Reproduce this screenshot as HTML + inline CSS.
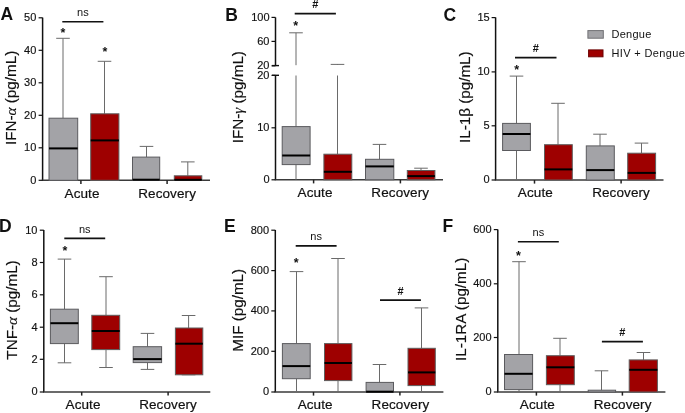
<!DOCTYPE html>
<html><head><meta charset="utf-8"><style>
html,body{margin:0;padding:0;background:#fff;}
svg{display:block;will-change:transform;font-family:"Liberation Sans", sans-serif;}
text{fill:#111;}
</style></head><body>
<svg width="685" height="413" viewBox="0 0 685 413">
<rect width="685" height="413" fill="#fff"/>
<line x1="42.6" y1="17.6" x2="42.6" y2="180.3" stroke="#111" stroke-width="1.5"/>
<line x1="41.85" y1="180.3" x2="210" y2="180.3" stroke="#3a3a3a" stroke-width="1.4"/>
<line x1="38.6" y1="180.3" x2="42.6" y2="180.3" stroke="#111" stroke-width="1.2"/>
<text x="36.3" y="183.7" font-size="11" text-anchor="end" font-weight="normal"  stroke="#111" stroke-width="0.15">0</text>
<line x1="38.6" y1="147.8" x2="42.6" y2="147.8" stroke="#111" stroke-width="1.2"/>
<text x="36.3" y="151.2" font-size="11" text-anchor="end" font-weight="normal"  stroke="#111" stroke-width="0.15">10</text>
<line x1="38.6" y1="115.3" x2="42.6" y2="115.3" stroke="#111" stroke-width="1.2"/>
<text x="36.3" y="118.7" font-size="11" text-anchor="end" font-weight="normal"  stroke="#111" stroke-width="0.15">20</text>
<line x1="38.6" y1="82.8" x2="42.6" y2="82.8" stroke="#111" stroke-width="1.2"/>
<text x="36.3" y="86.2" font-size="11" text-anchor="end" font-weight="normal"  stroke="#111" stroke-width="0.15">30</text>
<line x1="38.6" y1="50.3" x2="42.6" y2="50.3" stroke="#111" stroke-width="1.2"/>
<text x="36.3" y="53.7" font-size="11" text-anchor="end" font-weight="normal"  stroke="#111" stroke-width="0.15">40</text>
<line x1="38.6" y1="17.8" x2="42.6" y2="17.8" stroke="#111" stroke-width="1.2"/>
<text x="36.3" y="21.2" font-size="11" text-anchor="end" font-weight="normal"  stroke="#111" stroke-width="0.15">50</text>
<line x1="80.9" y1="180.3" x2="80.9" y2="183.9" stroke="#222" stroke-width="1.5"/>
<text x="82.05" y="197.6" font-size="13.5" text-anchor="middle" font-weight="normal"  letter-spacing="0.1" stroke="#111" stroke-width="0.2">Acute</text>
<line x1="167.1" y1="180.3" x2="167.1" y2="183.9" stroke="#222" stroke-width="1.5"/>
<text x="167.1" y="197.6" font-size="13.5" text-anchor="middle" font-weight="normal"  letter-spacing="0.1" stroke="#111" stroke-width="0.2">Recovery</text>
<text x="0" y="0" font-size="14.5" text-anchor="middle" font-weight="normal" transform="translate(16.3,97.9) rotate(-90) scale(1.05,1)" stroke="#111" stroke-width="0.15">IFN-<tspan font-family="Liberation Serif" font-style="italic">α</tspan> (pg/mL)</text>
<text x="0.4" y="20.4" font-size="17.5" text-anchor="start" font-weight="bold" >A</text>
<line x1="63.0" y1="38.3" x2="63.0" y2="118.2" stroke="#6a6a6a" stroke-width="1"/>
<line x1="56.2" y1="38.3" x2="69.8" y2="38.3" stroke="#6a6a6a" stroke-width="1"/>
<line x1="63.0" y1="180.3" x2="63.0" y2="180.3" stroke="#6a6a6a" stroke-width="1"/>
<rect x="49" y="118.2" width="28.7" height="62.1" fill="#a3a3a7" stroke="#5a5a5e" stroke-width="1"/>
<line x1="49" y1="148.4" x2="77.7" y2="148.4" stroke="#000" stroke-width="2"/>
<line x1="104.5" y1="61.3" x2="104.5" y2="113.8" stroke="#6a6a6a" stroke-width="1"/>
<line x1="97.7" y1="61.3" x2="111.3" y2="61.3" stroke="#6a6a6a" stroke-width="1"/>
<line x1="104.5" y1="180.3" x2="104.5" y2="180.3" stroke="#6a6a6a" stroke-width="1"/>
<rect x="90.7" y="113.8" width="28.2" height="66.5" fill="#9e0000" stroke="#5e5e5e" stroke-width="1"/>
<line x1="90.7" y1="140.4" x2="118.9" y2="140.4" stroke="#000" stroke-width="2"/>
<line x1="146.5" y1="146.4" x2="146.5" y2="157.1" stroke="#6a6a6a" stroke-width="1"/>
<line x1="139.7" y1="146.4" x2="153.3" y2="146.4" stroke="#6a6a6a" stroke-width="1"/>
<line x1="146.5" y1="180.3" x2="146.5" y2="180.3" stroke="#6a6a6a" stroke-width="1"/>
<rect x="132.5" y="157.1" width="27.2" height="23.2" fill="#a3a3a7" stroke="#5a5a5e" stroke-width="1"/>
<line x1="132.5" y1="179.7" x2="159.7" y2="179.7" stroke="#000" stroke-width="2"/>
<line x1="187.8" y1="161.9" x2="187.8" y2="175.8" stroke="#6a6a6a" stroke-width="1"/>
<line x1="181.0" y1="161.9" x2="194.6" y2="161.9" stroke="#6a6a6a" stroke-width="1"/>
<line x1="187.8" y1="180.3" x2="187.8" y2="180.3" stroke="#6a6a6a" stroke-width="1"/>
<rect x="174.3" y="175.8" width="27.5" height="4.5" fill="#9e0000" stroke="#5e5e5e" stroke-width="1"/>
<line x1="174.3" y1="179.8" x2="201.8" y2="179.8" stroke="#000" stroke-width="2"/>
<text x="63" y="36.5" font-size="12.5" text-anchor="middle" font-weight="bold" >*</text>
<text x="105" y="55.5" font-size="12.5" text-anchor="middle" font-weight="bold" >*</text>
<line x1="62.3" y1="21.8" x2="103.4" y2="21.8" stroke="#111" stroke-width="1.6"/>
<text x="82.85" y="15.7" font-size="11" text-anchor="middle" font-weight="normal" >ns</text>
<line x1="275.5" y1="17.4" x2="275.5" y2="65.6" stroke="#111" stroke-width="1.5"/>
<line x1="275.5" y1="75.3" x2="275.5" y2="179.8" stroke="#111" stroke-width="1.5"/>
<line x1="274.75" y1="179.8" x2="443" y2="179.8" stroke="#3a3a3a" stroke-width="1.4"/>
<line x1="271.5" y1="17.4" x2="275.5" y2="17.4" stroke="#111" stroke-width="1.2"/>
<text x="269.5" y="20.8" font-size="11" text-anchor="end" font-weight="normal"  stroke="#111" stroke-width="0.15">100</text>
<line x1="271.5" y1="41.4" x2="275.5" y2="41.4" stroke="#111" stroke-width="1.2"/>
<text x="269.5" y="44.8" font-size="11" text-anchor="end" font-weight="normal"  stroke="#111" stroke-width="0.15">60</text>
<line x1="271.5" y1="65.8" x2="275.5" y2="65.8" stroke="#111" stroke-width="1.2"/>
<text x="269.5" y="69.2" font-size="11" text-anchor="end" font-weight="normal"  stroke="#111" stroke-width="0.15">20</text>
<line x1="271.5" y1="75.4" x2="275.5" y2="75.4" stroke="#111" stroke-width="1.2"/>
<text x="269.5" y="78.8" font-size="11" text-anchor="end" font-weight="normal"  stroke="#111" stroke-width="0.15">20</text>
<line x1="271.5" y1="127.8" x2="275.5" y2="127.8" stroke="#111" stroke-width="1.2"/>
<text x="269.5" y="131.2" font-size="11" text-anchor="end" font-weight="normal"  stroke="#111" stroke-width="0.15">10</text>
<line x1="271.5" y1="179.8" x2="275.5" y2="179.8" stroke="#111" stroke-width="1.2"/>
<text x="269.5" y="183.2" font-size="11" text-anchor="end" font-weight="normal"  stroke="#111" stroke-width="0.15">0</text>
<line x1="272.0" y1="65.6" x2="279.0" y2="65.6" stroke="#111" stroke-width="1.4"/>
<line x1="272.0" y1="75.3" x2="279.0" y2="75.3" stroke="#111" stroke-width="1.4"/>
<line x1="313.6" y1="179.8" x2="313.6" y2="183.4" stroke="#222" stroke-width="1.5"/>
<text x="315.05" y="197.1" font-size="13.5" text-anchor="middle" font-weight="normal"  letter-spacing="0.1" stroke="#111" stroke-width="0.2">Acute</text>
<line x1="400.4" y1="179.8" x2="400.4" y2="183.4" stroke="#222" stroke-width="1.5"/>
<text x="400.25" y="197.1" font-size="13.5" text-anchor="middle" font-weight="normal"  letter-spacing="0.1" stroke="#111" stroke-width="0.2">Recovery</text>
<text x="0" y="0" font-size="14.5" text-anchor="middle" font-weight="normal" transform="translate(242.8,97.2) rotate(-90) scale(1.05,1)" stroke="#111" stroke-width="0.15">IFN-<tspan font-family="Liberation Serif" font-style="italic">γ</tspan> (pg/mL)</text>
<text x="225.2" y="20.5" font-size="17.5" text-anchor="start" font-weight="bold" >B</text>
<line x1="296.0" y1="32.8" x2="296.0" y2="65.2" stroke="#6a6a6a" stroke-width="1"/>
<line x1="296.0" y1="75.5" x2="296.0" y2="126.6" stroke="#6a6a6a" stroke-width="1"/>
<line x1="289.2" y1="32.8" x2="302.8" y2="32.8" stroke="#6a6a6a" stroke-width="1"/>
<line x1="296.0" y1="164.6" x2="296.0" y2="179.8" stroke="#6a6a6a" stroke-width="1"/>
<rect x="282.2" y="126.6" width="27.9" height="38.0" fill="#a3a3a7" stroke="#5a5a5e" stroke-width="1"/>
<line x1="282.2" y1="155.5" x2="310.1" y2="155.5" stroke="#000" stroke-width="2"/>
<line x1="337.5" y1="64.4" x2="337.5" y2="65.0" stroke="#6a6a6a" stroke-width="1"/>
<line x1="337.5" y1="75.5" x2="337.5" y2="154.2" stroke="#6a6a6a" stroke-width="1"/>
<line x1="330.7" y1="64.4" x2="344.3" y2="64.4" stroke="#6a6a6a" stroke-width="1"/>
<line x1="337.5" y1="179.8" x2="337.5" y2="179.8" stroke="#6a6a6a" stroke-width="1"/>
<rect x="323.9" y="154.2" width="27.9" height="25.6" fill="#9e0000" stroke="#5e5e5e" stroke-width="1"/>
<line x1="323.9" y1="171.8" x2="351.8" y2="171.8" stroke="#000" stroke-width="2"/>
<line x1="379.5" y1="144.4" x2="379.5" y2="159.3" stroke="#6a6a6a" stroke-width="1"/>
<line x1="372.7" y1="144.4" x2="386.3" y2="144.4" stroke="#6a6a6a" stroke-width="1"/>
<line x1="379.5" y1="179.8" x2="379.5" y2="179.8" stroke="#6a6a6a" stroke-width="1"/>
<rect x="365.5" y="159.3" width="28.3" height="20.5" fill="#a3a3a7" stroke="#5a5a5e" stroke-width="1"/>
<line x1="365.5" y1="166.4" x2="393.8" y2="166.4" stroke="#000" stroke-width="2"/>
<line x1="421.0" y1="168.2" x2="421.0" y2="170.5" stroke="#6a6a6a" stroke-width="1"/>
<line x1="414.2" y1="168.2" x2="427.8" y2="168.2" stroke="#6a6a6a" stroke-width="1"/>
<line x1="421.0" y1="179.8" x2="421.0" y2="179.8" stroke="#6a6a6a" stroke-width="1"/>
<rect x="407.3" y="170.5" width="27.6" height="9.3" fill="#9e0000" stroke="#5e5e5e" stroke-width="1"/>
<line x1="407.3" y1="176.1" x2="434.9" y2="176.1" stroke="#000" stroke-width="2"/>
<text x="295.6" y="29.5" font-size="12.5" text-anchor="middle" font-weight="bold" >*</text>
<line x1="294.7" y1="13.6" x2="335.9" y2="13.6" stroke="#111" stroke-width="1.6"/>
<text x="315.3" y="8.2" font-size="11" text-anchor="middle" font-weight="bold" >#</text>
<line x1="495.6" y1="17.4" x2="495.6" y2="180" stroke="#111" stroke-width="1.5"/>
<line x1="494.85" y1="180" x2="663.5" y2="180" stroke="#3a3a3a" stroke-width="1.4"/>
<line x1="491.6" y1="180" x2="495.6" y2="180" stroke="#111" stroke-width="1.2"/>
<text x="489.7" y="183.4" font-size="11" text-anchor="end" font-weight="normal"  stroke="#111" stroke-width="0.15">0</text>
<line x1="491.6" y1="125.8" x2="495.6" y2="125.8" stroke="#111" stroke-width="1.2"/>
<text x="489.7" y="129.2" font-size="11" text-anchor="end" font-weight="normal"  stroke="#111" stroke-width="0.15">5</text>
<line x1="491.6" y1="71.9" x2="495.6" y2="71.9" stroke="#111" stroke-width="1.2"/>
<text x="489.7" y="75.3" font-size="11" text-anchor="end" font-weight="normal"  stroke="#111" stroke-width="0.15">10</text>
<line x1="491.6" y1="17.6" x2="495.6" y2="17.6" stroke="#111" stroke-width="1.2"/>
<text x="489.7" y="21.0" font-size="11" text-anchor="end" font-weight="normal"  stroke="#111" stroke-width="0.15">15</text>
<line x1="534.5" y1="180" x2="534.5" y2="183.6" stroke="#222" stroke-width="1.5"/>
<text x="535.35" y="197.3" font-size="13.5" text-anchor="middle" font-weight="normal"  letter-spacing="0.1" stroke="#111" stroke-width="0.2">Acute</text>
<line x1="621.1" y1="180" x2="621.1" y2="183.6" stroke="#222" stroke-width="1.5"/>
<text x="621.05" y="197.3" font-size="13.5" text-anchor="middle" font-weight="normal"  letter-spacing="0.1" stroke="#111" stroke-width="0.2">Recovery</text>
<text x="0" y="0" font-size="14.5" text-anchor="middle" font-weight="normal" transform="translate(469.8,97.2) rotate(-90) scale(1.05,1)" stroke="#111" stroke-width="0.15">IL-1β (pg/mL)</text>
<text x="443.6" y="20.5" font-size="17.5" text-anchor="start" font-weight="bold" >C</text>
<line x1="516.5" y1="76.1" x2="516.5" y2="123.4" stroke="#6a6a6a" stroke-width="1"/>
<line x1="509.7" y1="76.1" x2="523.3" y2="76.1" stroke="#6a6a6a" stroke-width="1"/>
<line x1="516.5" y1="150.5" x2="516.5" y2="180" stroke="#6a6a6a" stroke-width="1"/>
<rect x="502.6" y="123.4" width="27.8" height="27.1" fill="#a3a3a7" stroke="#5a5a5e" stroke-width="1"/>
<line x1="502.6" y1="134" x2="530.4" y2="134" stroke="#000" stroke-width="2"/>
<line x1="558.0" y1="103.3" x2="558.0" y2="144.7" stroke="#6a6a6a" stroke-width="1"/>
<line x1="551.2" y1="103.3" x2="564.8" y2="103.3" stroke="#6a6a6a" stroke-width="1"/>
<line x1="558.0" y1="180" x2="558.0" y2="180" stroke="#6a6a6a" stroke-width="1"/>
<rect x="544.5" y="144.7" width="27.8" height="35.3" fill="#9e0000" stroke="#5e5e5e" stroke-width="1"/>
<line x1="544.5" y1="169.4" x2="572.3" y2="169.4" stroke="#000" stroke-width="2"/>
<line x1="600.0" y1="134.2" x2="600.0" y2="145.9" stroke="#6a6a6a" stroke-width="1"/>
<line x1="593.2" y1="134.2" x2="606.8" y2="134.2" stroke="#6a6a6a" stroke-width="1"/>
<line x1="600.0" y1="180" x2="600.0" y2="180" stroke="#6a6a6a" stroke-width="1"/>
<rect x="586.3" y="145.9" width="28.0" height="34.1" fill="#a3a3a7" stroke="#5a5a5e" stroke-width="1"/>
<line x1="586.3" y1="170.1" x2="614.3" y2="170.1" stroke="#000" stroke-width="2"/>
<line x1="641.5" y1="143.1" x2="641.5" y2="153.2" stroke="#6a6a6a" stroke-width="1"/>
<line x1="634.7" y1="143.1" x2="648.3" y2="143.1" stroke="#6a6a6a" stroke-width="1"/>
<line x1="641.5" y1="180" x2="641.5" y2="180" stroke="#6a6a6a" stroke-width="1"/>
<rect x="627.7" y="153.2" width="27.9" height="26.8" fill="#9e0000" stroke="#5e5e5e" stroke-width="1"/>
<line x1="627.7" y1="172.9" x2="655.6" y2="172.9" stroke="#000" stroke-width="2"/>
<text x="516.7" y="73.5" font-size="12.5" text-anchor="middle" font-weight="bold" >*</text>
<line x1="515" y1="57.6" x2="556.5" y2="57.6" stroke="#111" stroke-width="1.6"/>
<text x="535.75" y="52.2" font-size="11" text-anchor="middle" font-weight="bold" >#</text>
<line x1="43.8" y1="230" x2="43.8" y2="392" stroke="#111" stroke-width="1.5"/>
<line x1="43.05" y1="392" x2="210.3" y2="392" stroke="#3a3a3a" stroke-width="1.4"/>
<line x1="39.8" y1="392" x2="43.8" y2="392" stroke="#111" stroke-width="1.2"/>
<text x="37.5" y="395.4" font-size="11" text-anchor="end" font-weight="normal"  stroke="#111" stroke-width="0.15">0</text>
<line x1="39.8" y1="359.3" x2="43.8" y2="359.3" stroke="#111" stroke-width="1.2"/>
<text x="37.5" y="362.7" font-size="11" text-anchor="end" font-weight="normal"  stroke="#111" stroke-width="0.15">2</text>
<line x1="39.8" y1="327.2" x2="43.8" y2="327.2" stroke="#111" stroke-width="1.2"/>
<text x="37.5" y="330.6" font-size="11" text-anchor="end" font-weight="normal"  stroke="#111" stroke-width="0.15">4</text>
<line x1="39.8" y1="294.8" x2="43.8" y2="294.8" stroke="#111" stroke-width="1.2"/>
<text x="37.5" y="298.2" font-size="11" text-anchor="end" font-weight="normal"  stroke="#111" stroke-width="0.15">6</text>
<line x1="39.8" y1="262.5" x2="43.8" y2="262.5" stroke="#111" stroke-width="1.2"/>
<text x="37.5" y="265.9" font-size="11" text-anchor="end" font-weight="normal"  stroke="#111" stroke-width="0.15">8</text>
<line x1="39.8" y1="230.2" x2="43.8" y2="230.2" stroke="#111" stroke-width="1.2"/>
<text x="37.5" y="233.6" font-size="11" text-anchor="end" font-weight="normal"  stroke="#111" stroke-width="0.15">10</text>
<line x1="81.7" y1="392" x2="81.7" y2="395.6" stroke="#222" stroke-width="1.5"/>
<text x="83.05" y="409.3" font-size="13.5" text-anchor="middle" font-weight="normal"  letter-spacing="0.1" stroke="#111" stroke-width="0.2">Acute</text>
<line x1="168.1" y1="392" x2="168.1" y2="395.6" stroke="#222" stroke-width="1.5"/>
<text x="168.05" y="409.3" font-size="13.5" text-anchor="middle" font-weight="normal"  letter-spacing="0.1" stroke="#111" stroke-width="0.2">Recovery</text>
<text x="0" y="0" font-size="14.5" text-anchor="middle" font-weight="normal" transform="translate(17.1,310) rotate(-90) scale(1.05,1)" stroke="#111" stroke-width="0.15">TNF-<tspan font-family="Liberation Serif" font-style="italic">α</tspan> (pg/mL)</text>
<text x="-1" y="231.6" font-size="17.5" text-anchor="start" font-weight="bold" >D</text>
<line x1="64.5" y1="259.1" x2="64.5" y2="309.2" stroke="#6a6a6a" stroke-width="1"/>
<line x1="57.7" y1="259.1" x2="71.3" y2="259.1" stroke="#6a6a6a" stroke-width="1"/>
<line x1="64.5" y1="343.6" x2="64.5" y2="362.8" stroke="#6a6a6a" stroke-width="1"/>
<line x1="57.7" y1="362.8" x2="71.3" y2="362.8" stroke="#6a6a6a" stroke-width="1"/>
<rect x="50.4" y="309.2" width="27.9" height="34.4" fill="#a3a3a7" stroke="#5a5a5e" stroke-width="1"/>
<line x1="50.4" y1="323.2" x2="78.3" y2="323.2" stroke="#000" stroke-width="2"/>
<line x1="106.0" y1="276.7" x2="106.0" y2="315.3" stroke="#6a6a6a" stroke-width="1"/>
<line x1="99.2" y1="276.7" x2="112.8" y2="276.7" stroke="#6a6a6a" stroke-width="1"/>
<line x1="106.0" y1="349.6" x2="106.0" y2="367.5" stroke="#6a6a6a" stroke-width="1"/>
<line x1="99.2" y1="367.5" x2="112.8" y2="367.5" stroke="#6a6a6a" stroke-width="1"/>
<rect x="91.8" y="315.3" width="27.9" height="34.3" fill="#9e0000" stroke="#5e5e5e" stroke-width="1"/>
<line x1="91.8" y1="331" x2="119.7" y2="331" stroke="#000" stroke-width="2"/>
<line x1="147.5" y1="333.4" x2="147.5" y2="346.7" stroke="#6a6a6a" stroke-width="1"/>
<line x1="140.7" y1="333.4" x2="154.3" y2="333.4" stroke="#6a6a6a" stroke-width="1"/>
<line x1="147.5" y1="362.6" x2="147.5" y2="369.4" stroke="#6a6a6a" stroke-width="1"/>
<line x1="140.7" y1="369.4" x2="154.3" y2="369.4" stroke="#6a6a6a" stroke-width="1"/>
<rect x="133.2" y="346.7" width="28.4" height="15.9" fill="#a3a3a7" stroke="#5a5a5e" stroke-width="1"/>
<line x1="133.2" y1="359.1" x2="161.6" y2="359.1" stroke="#000" stroke-width="2"/>
<line x1="188.6" y1="315.5" x2="188.6" y2="328" stroke="#6a6a6a" stroke-width="1"/>
<line x1="181.8" y1="315.5" x2="195.4" y2="315.5" stroke="#6a6a6a" stroke-width="1"/>
<line x1="188.6" y1="374.8" x2="188.6" y2="374.8" stroke="#6a6a6a" stroke-width="1"/>
<line x1="181.8" y1="374.8" x2="195.4" y2="374.8" stroke="#6a6a6a" stroke-width="1"/>
<rect x="175.4" y="328" width="27.4" height="46.8" fill="#9e0000" stroke="#5e5e5e" stroke-width="1"/>
<line x1="175.4" y1="343.7" x2="202.8" y2="343.7" stroke="#000" stroke-width="2"/>
<text x="64.9" y="254.5" font-size="12.5" text-anchor="middle" font-weight="bold" >*</text>
<line x1="64.3" y1="238.4" x2="105.2" y2="238.4" stroke="#111" stroke-width="1.6"/>
<text x="84.75" y="232.8" font-size="11" text-anchor="middle" font-weight="normal" >ns</text>
<line x1="275.3" y1="230" x2="275.3" y2="392" stroke="#111" stroke-width="1.5"/>
<line x1="274.55" y1="392" x2="443.4" y2="392" stroke="#3a3a3a" stroke-width="1.4"/>
<line x1="271.3" y1="392" x2="275.3" y2="392" stroke="#111" stroke-width="1.2"/>
<text x="269.0" y="395.4" font-size="11" text-anchor="end" font-weight="normal"  stroke="#111" stroke-width="0.15">0</text>
<line x1="271.3" y1="351.3" x2="275.3" y2="351.3" stroke="#111" stroke-width="1.2"/>
<text x="269.0" y="354.7" font-size="11" text-anchor="end" font-weight="normal"  stroke="#111" stroke-width="0.15">200</text>
<line x1="271.3" y1="310.9" x2="275.3" y2="310.9" stroke="#111" stroke-width="1.2"/>
<text x="269.0" y="314.3" font-size="11" text-anchor="end" font-weight="normal"  stroke="#111" stroke-width="0.15">400</text>
<line x1="271.3" y1="270.6" x2="275.3" y2="270.6" stroke="#111" stroke-width="1.2"/>
<text x="269.0" y="274.0" font-size="11" text-anchor="end" font-weight="normal"  stroke="#111" stroke-width="0.15">600</text>
<line x1="271.3" y1="230.2" x2="275.3" y2="230.2" stroke="#111" stroke-width="1.2"/>
<text x="269.0" y="233.6" font-size="11" text-anchor="end" font-weight="normal"  stroke="#111" stroke-width="0.15">800</text>
<line x1="313.5" y1="392" x2="313.5" y2="395.6" stroke="#222" stroke-width="1.5"/>
<text x="315.15" y="409.3" font-size="13.5" text-anchor="middle" font-weight="normal"  letter-spacing="0.1" stroke="#111" stroke-width="0.2">Acute</text>
<line x1="399.9" y1="392" x2="399.9" y2="395.6" stroke="#222" stroke-width="1.5"/>
<text x="400.45" y="409.3" font-size="13.5" text-anchor="middle" font-weight="normal"  letter-spacing="0.1" stroke="#111" stroke-width="0.2">Recovery</text>
<text x="0" y="0" font-size="14.5" text-anchor="middle" font-weight="normal" transform="translate(242.5,310.3) rotate(-90) scale(1.05,1)" stroke="#111" stroke-width="0.15">MIF (pg/mL)</text>
<text x="223.9" y="231.6" font-size="17.5" text-anchor="start" font-weight="bold" >E</text>
<line x1="296.5" y1="271.6" x2="296.5" y2="343.6" stroke="#6a6a6a" stroke-width="1"/>
<line x1="289.7" y1="271.6" x2="303.3" y2="271.6" stroke="#6a6a6a" stroke-width="1"/>
<line x1="296.5" y1="378.7" x2="296.5" y2="392" stroke="#6a6a6a" stroke-width="1"/>
<rect x="282.4" y="343.6" width="27.8" height="35.1" fill="#a3a3a7" stroke="#5a5a5e" stroke-width="1"/>
<line x1="282.4" y1="366.1" x2="310.2" y2="366.1" stroke="#000" stroke-width="2"/>
<line x1="338.0" y1="258.5" x2="338.0" y2="343.6" stroke="#6a6a6a" stroke-width="1"/>
<line x1="331.2" y1="258.5" x2="344.8" y2="258.5" stroke="#6a6a6a" stroke-width="1"/>
<line x1="338.0" y1="380.6" x2="338.0" y2="392" stroke="#6a6a6a" stroke-width="1"/>
<rect x="324.5" y="343.6" width="27.4" height="37.0" fill="#9e0000" stroke="#5e5e5e" stroke-width="1"/>
<line x1="324.5" y1="363" x2="351.9" y2="363" stroke="#000" stroke-width="2"/>
<line x1="379.5" y1="364.5" x2="379.5" y2="382.4" stroke="#6a6a6a" stroke-width="1"/>
<line x1="372.7" y1="364.5" x2="386.3" y2="364.5" stroke="#6a6a6a" stroke-width="1"/>
<line x1="379.5" y1="392" x2="379.5" y2="392" stroke="#6a6a6a" stroke-width="1"/>
<rect x="366.1" y="382.4" width="27.4" height="9.6" fill="#a3a3a7" stroke="#5a5a5e" stroke-width="1"/>
<line x1="366.1" y1="391.7" x2="393.5" y2="391.7" stroke="#000" stroke-width="2"/>
<line x1="421.5" y1="307.9" x2="421.5" y2="348.3" stroke="#6a6a6a" stroke-width="1"/>
<line x1="414.7" y1="307.9" x2="428.3" y2="307.9" stroke="#6a6a6a" stroke-width="1"/>
<line x1="421.5" y1="385.6" x2="421.5" y2="392" stroke="#6a6a6a" stroke-width="1"/>
<rect x="408" y="348.3" width="27.3" height="37.3" fill="#9e0000" stroke="#5e5e5e" stroke-width="1"/>
<line x1="408" y1="372.4" x2="435.3" y2="372.4" stroke="#000" stroke-width="2"/>
<text x="296.2" y="267" font-size="12.5" text-anchor="middle" font-weight="bold" >*</text>
<line x1="295.7" y1="245.9" x2="336.6" y2="245.9" stroke="#111" stroke-width="1.6"/>
<text x="316.15" y="239.7" font-size="11" text-anchor="middle" font-weight="normal" >ns</text>
<line x1="380" y1="300.1" x2="420.9" y2="300.1" stroke="#111" stroke-width="1.6"/>
<text x="400.45" y="294.8" font-size="11" text-anchor="middle" font-weight="bold" >#</text>
<line x1="497.8" y1="229.5" x2="497.8" y2="392" stroke="#111" stroke-width="1.5"/>
<line x1="497.05" y1="392" x2="665.4" y2="392" stroke="#3a3a3a" stroke-width="1.4"/>
<line x1="493.8" y1="392" x2="497.8" y2="392" stroke="#111" stroke-width="1.2"/>
<text x="491.5" y="395.4" font-size="11" text-anchor="end" font-weight="normal"  stroke="#111" stroke-width="0.15">0</text>
<line x1="493.8" y1="337.5" x2="497.8" y2="337.5" stroke="#111" stroke-width="1.2"/>
<text x="491.5" y="340.9" font-size="11" text-anchor="end" font-weight="normal"  stroke="#111" stroke-width="0.15">200</text>
<line x1="493.8" y1="283.8" x2="497.8" y2="283.8" stroke="#111" stroke-width="1.2"/>
<text x="491.5" y="287.2" font-size="11" text-anchor="end" font-weight="normal"  stroke="#111" stroke-width="0.15">400</text>
<line x1="493.8" y1="229.6" x2="497.8" y2="229.6" stroke="#111" stroke-width="1.2"/>
<text x="491.5" y="233.0" font-size="11" text-anchor="end" font-weight="normal"  stroke="#111" stroke-width="0.15">600</text>
<line x1="536.4" y1="392" x2="536.4" y2="395.6" stroke="#222" stroke-width="1.5"/>
<text x="537.35" y="409.3" font-size="13.5" text-anchor="middle" font-weight="normal"  letter-spacing="0.1" stroke="#111" stroke-width="0.2">Acute</text>
<line x1="622.4" y1="392" x2="622.4" y2="395.6" stroke="#222" stroke-width="1.5"/>
<text x="622.65" y="409.3" font-size="13.5" text-anchor="middle" font-weight="normal"  letter-spacing="0.1" stroke="#111" stroke-width="0.2">Recovery</text>
<text x="0" y="0" font-size="14.5" text-anchor="middle" font-weight="normal" transform="translate(465.5,309.3) rotate(-90) scale(1.05,1)" stroke="#111" stroke-width="0.15">IL-1RA (pg/mL)</text>
<text x="442.6" y="231.6" font-size="17.5" text-anchor="start" font-weight="bold" >F</text>
<line x1="519.0" y1="261.7" x2="519.0" y2="354.5" stroke="#6a6a6a" stroke-width="1"/>
<line x1="512.2" y1="261.7" x2="525.8" y2="261.7" stroke="#6a6a6a" stroke-width="1"/>
<line x1="519.0" y1="389.6" x2="519.0" y2="392" stroke="#6a6a6a" stroke-width="1"/>
<rect x="504.5" y="354.5" width="28.1" height="35.1" fill="#a3a3a7" stroke="#5a5a5e" stroke-width="1"/>
<line x1="504.5" y1="373.8" x2="532.6" y2="373.8" stroke="#000" stroke-width="2"/>
<line x1="560.0" y1="338.3" x2="560.0" y2="355.7" stroke="#6a6a6a" stroke-width="1"/>
<line x1="553.2" y1="338.3" x2="566.8" y2="338.3" stroke="#6a6a6a" stroke-width="1"/>
<line x1="560.0" y1="384.7" x2="560.0" y2="392" stroke="#6a6a6a" stroke-width="1"/>
<rect x="546.4" y="355.7" width="27.9" height="29.0" fill="#9e0000" stroke="#5e5e5e" stroke-width="1"/>
<line x1="546.4" y1="367.3" x2="574.3" y2="367.3" stroke="#000" stroke-width="2"/>
<line x1="601.5" y1="370.8" x2="601.5" y2="390.2" stroke="#6a6a6a" stroke-width="1"/>
<line x1="594.7" y1="370.8" x2="608.3" y2="370.8" stroke="#6a6a6a" stroke-width="1"/>
<line x1="601.5" y1="392" x2="601.5" y2="392" stroke="#6a6a6a" stroke-width="1"/>
<rect x="588.2" y="390.2" width="27.4" height="1.8" fill="#a3a3a7" stroke="#5a5a5e" stroke-width="1"/>
<line x1="643.5" y1="352.5" x2="643.5" y2="359.9" stroke="#6a6a6a" stroke-width="1"/>
<line x1="636.7" y1="352.5" x2="650.3" y2="352.5" stroke="#6a6a6a" stroke-width="1"/>
<line x1="643.5" y1="392" x2="643.5" y2="392" stroke="#6a6a6a" stroke-width="1"/>
<rect x="629.2" y="359.9" width="28.2" height="32.1" fill="#9e0000" stroke="#5e5e5e" stroke-width="1"/>
<line x1="629.2" y1="369.8" x2="657.4" y2="369.8" stroke="#000" stroke-width="2"/>
<text x="518.5" y="259.5" font-size="12.5" text-anchor="middle" font-weight="bold" >*</text>
<line x1="517.9" y1="241.7" x2="558.8" y2="241.7" stroke="#111" stroke-width="1.6"/>
<text x="538.35" y="235.7" font-size="11" text-anchor="middle" font-weight="normal" >ns</text>
<line x1="601.9" y1="341.6" x2="642.9" y2="341.6" stroke="#111" stroke-width="1.6"/>
<text x="622.4" y="336.1" font-size="11" text-anchor="middle" font-weight="bold" >#</text>
<rect x="587.9" y="30.6" width="15.4" height="7.6" fill="#a3a3a7" stroke="#707074" stroke-width="1"/>
<rect x="588.6" y="49.9" width="14.4" height="6.9" fill="#9e0000" stroke="#6a0000" stroke-width="1"/>
<text x="611.5" y="38" font-size="11" text-anchor="start" font-weight="normal" letter-spacing="0.25">Dengue</text>
<text x="611.5" y="57.2" font-size="11" text-anchor="start" font-weight="normal" letter-spacing="0.35">HIV + Dengue</text>
</svg></body></html>
